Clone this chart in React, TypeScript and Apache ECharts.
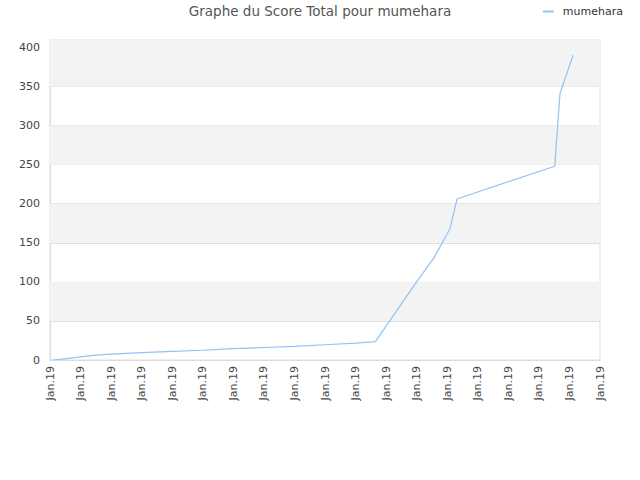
import React, { useEffect, useRef } from "react";
import * as echarts from "echarts";

const TITLE = "Graphe du Score Total pour mumehara";
const SERIES_NAME = "mumehara";
const X_TICK_LABEL = "Jan.19";
// x positions in tick-interval units, values
const xPos = [0.1, 0.4, 0.8, 1.2, 1.6, 2.0, 2.5, 3.0, 4.0, 5.0, 6.0, 7.0, 8.0, 9.0, 10.0, 10.65, 11.98, 12.57, 13.09, 13.32, 16.52, 16.69, 17.12];
const scores = [0, 1, 3, 5, 6.5, 7.5, 8.5, 9.5, 11, 12.5, 14.5, 16, 17.5, 19.5, 21.5, 23.5, 99, 131, 168, 206, 248, 341, 390];
const grayBands: [number, number][] = [[50, 100], [150, 200], [250, 300], [350, 409.5]];

export default function App() {
  const ref = useRef<HTMLDivElement>(null);
  useEffect(() => {
    if (!ref.current) return;
    const chart = echarts.init(ref.current, null, { renderer: "svg" });
    const font = "DejaVu Sans";
    chart.setOption({
      animation: false,
      title: {
        text: TITLE,
        left: "center",
        top: 4,
        padding: 0,
        textStyle: { fontFamily: font, fontSize: 13.5, fontWeight: "normal", color: "#555" },
      },
      legend: {
        right: 17,
        top: 6,
        padding: 0,
        icon: "rect",
        itemWidth: 11,
        itemHeight: 2,
        textStyle: { fontFamily: font, fontSize: 11, color: "#333", padding: [0, 0, 0, 4] },
        data: [SERIES_NAME],
      },
      grid: {
        left: 50,
        right: 40,
        top: 40,
        bottom: 120,
        show: true,
        borderColor: "#dcdcdc",
        borderWidth: 1,
      },
      xAxis: {
        type: "value",
        min: 0,
        max: 18,
        interval: 1,
        axisLine: { show: true, lineStyle: { color: "#dcdcdc" } },
        axisTick: { show: false },
        splitLine: { show: false },
        axisLabel: {
          rotate: 90,
          margin: 6,
          fontFamily: font,
          fontSize: 11,
          color: "#444",
          formatter: () => X_TICK_LABEL,
        },
      },
      yAxis: {
        type: "value",
        min: 0,
        max: 409.5,
        interval: 50,
        axisLine: { show: true, lineStyle: { color: "#dcdcdc" } },
        axisTick: { show: false },
        splitLine: { show: true, lineStyle: { color: "#e0e0e0" } },
        axisLabel: {
          showMaxLabel: false,
          margin: 10,
          fontFamily: font,
          fontSize: 11,
          color: "#444",
        },
      },
      series: [
        {
          name: SERIES_NAME,
          type: "line",
          symbol: "none",
          data: xPos.map((x, i) => [x, scores[i]]),
          lineStyle: { color: "#90c3f5", width: 1.2 },
          itemStyle: { color: "#90c3f5" },
          markArea: {
            silent: true,
            itemStyle: { color: "#f3f3f3" },
            data: grayBands.map(([a, b]) => [{ yAxis: a }, { yAxis: b }]),
          },
          z: 3,
        },
      ],
    });
    return () => chart.dispose();
  }, []);
  return <div ref={ref} style={{ position: "absolute", left: 0, top: 0, width: 640, height: 480 }} />;
}
